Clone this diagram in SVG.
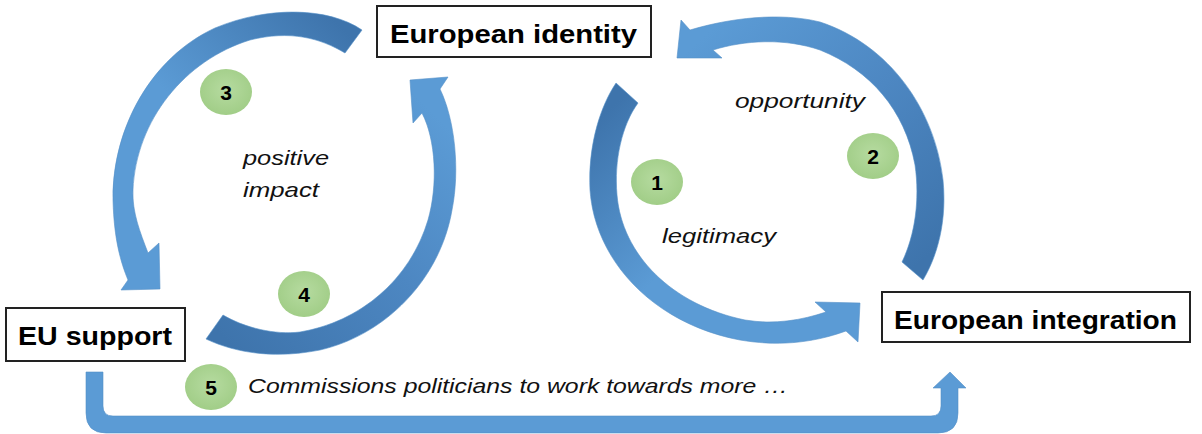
<svg xmlns="http://www.w3.org/2000/svg" width="1202" height="434" viewBox="0 0 1202 434">
<style>
.box{fill:#fff;stroke:#222;stroke-width:2}
.title{font-family:"Liberation Sans",Arial,sans-serif;font-weight:bold;font-size:26px;fill:#000}
.lbl{font-family:"Liberation Sans",Arial,sans-serif;font-style:italic;font-size:21px;fill:#111}
.num{font-family:"Liberation Sans",Arial,sans-serif;font-weight:bold;font-size:21px;fill:#000;text-anchor:middle}
.badge{fill:url(#gGreen)}
.arr{stroke:#5590c8;stroke-width:0.6}
</style>
<defs>
<radialGradient id="gGreen" cx="0.5" cy="0.45" r="0.6">
<stop offset="0" stop-color="#b6dba0"/>
<stop offset="1" stop-color="#9fcc85"/>
</radialGradient>
<linearGradient id="g3" gradientUnits="userSpaceOnUse" x1="355" y1="40" x2="140" y2="260">
<stop offset="0" stop-color="#3e74ac"/><stop offset="0.55" stop-color="#5b9bd5"/><stop offset="1" stop-color="#5b9bd5"/>
</linearGradient>
<linearGradient id="g4" gradientUnits="userSpaceOnUse" x1="215" y1="330" x2="430" y2="110">
<stop offset="0" stop-color="#3e74ac"/><stop offset="0.55" stop-color="#4d87c2"/><stop offset="1" stop-color="#5b9bd5"/>
</linearGradient>
<linearGradient id="g1" gradientUnits="userSpaceOnUse" x1="627" y1="93" x2="840" y2="320">
<stop offset="0" stop-color="#3e74ac"/><stop offset="0.5" stop-color="#5b9bd5"/><stop offset="1" stop-color="#5b9bd5"/>
</linearGradient>
<linearGradient id="g2" gradientUnits="userSpaceOnUse" x1="912" y1="271" x2="700" y2="40">
<stop offset="0" stop-color="#3e74ac"/><stop offset="0.5" stop-color="#4d87c2"/><stop offset="1" stop-color="#5b9bd5"/>
</linearGradient>
</defs>

<g id="connectors">
<path id="arrow3" class="arr" fill="url(#g3)" d="M362,30 C330,8 270,5 215,28 C150,58 112,130 113,200 C114,240 121,263 128,280 L121,290 L160,289 L159,243 L148,253 C140,232 132,212 133,190 C136,120 185,60 250,40 C290,30 320,38 345,53 Z"/>
<path id="arrow4" class="arr" fill="url(#g4)" d="M206,339 L223,315 C245,328 275,335 300,332 C360,322 410,280 428,220 C438,185 436,140 422,113 L413,123 L410,80 L448,77 L440,89 C455,120 460,170 452,210 C440,280 385,335 320,350 C280,358 240,355 206,339 Z"/>
<path id="arrow1" class="arr" fill="url(#g1)" d="M616,83 L638,103 C622,125 614,160 617,195 C622,255 672,305 745,320 C775,325 802,320 826,312 L815,302 L860,303 L858,342 L846,331 C810,344 775,346 740,340 C655,324 595,262 590,190 C588,150 598,110 616,83 Z"/>
<path id="arrow2" class="arr" fill="url(#g2)" d="M690,30 C730,18 780,12 820,22 C890,45 935,110 943,180 C947,220 938,255 923,280 L902,262 C915,235 920,200 915,165 C905,110 870,70 820,50 C785,38 745,40 713,50 L722,58 L677,58 L681,20 Z"/>
<path id="arrow5" class="arr" fill="#5b9bd5" d="M86,372 L103,372 L103,406 Q103,416 113,416 L931,416 Q941,416 941,406 L941,388 L933,388 L950,372 L966,388 L958,388 L958,413 Q958,433 938,433 L106,433 Q86,433 86,413 Z"/>
</g>

<g id="node-identity">
<rect class="box" x="377" y="6" width="274" height="51"/>
<text class="title" x="390" y="43" textLength="247" lengthAdjust="spacingAndGlyphs">European identity</text>
</g>
<g id="node-support">
<rect class="box" x="6" y="308" width="179" height="53"/>
<text class="title" x="18" y="345" textLength="154" lengthAdjust="spacingAndGlyphs">EU support</text>
</g>
<g id="node-integration">
<rect class="box" x="882" y="292" width="308" height="50"/>
<text class="title" x="894" y="329" textLength="283" lengthAdjust="spacingAndGlyphs">European integration</text>
</g>

<g id="labels">
<text class="lbl" x="243" y="165" textLength="86" lengthAdjust="spacingAndGlyphs">positive</text>
<text class="lbl" x="243" y="197" textLength="76" lengthAdjust="spacingAndGlyphs">impact</text>
<text class="lbl" x="735" y="108" textLength="130" lengthAdjust="spacingAndGlyphs">opportunity</text>
<text class="lbl" x="662" y="243" textLength="114" lengthAdjust="spacingAndGlyphs">legitimacy</text>
<text class="lbl" x="248" y="393" textLength="540" lengthAdjust="spacingAndGlyphs">Commissions politicians to work towards more …</text>
</g>

<g id="badge-1"><ellipse class="badge" cx="657" cy="182" rx="26" ry="23"/><text class="num" x="657" y="190">1</text></g>
<g id="badge-2"><ellipse class="badge" cx="873" cy="156" rx="26" ry="23"/><text class="num" x="873" y="164">2</text></g>
<g id="badge-3"><ellipse class="badge" cx="226" cy="92" rx="26" ry="23"/><text class="num" x="226" y="100">3</text></g>
<g id="badge-4"><ellipse class="badge" cx="304" cy="294" rx="26" ry="23"/><text class="num" x="304" y="302">4</text></g>
<g id="badge-5"><ellipse class="badge" cx="211" cy="387" rx="26" ry="23"/><text class="num" x="211" y="395">5</text></g>
</svg>
